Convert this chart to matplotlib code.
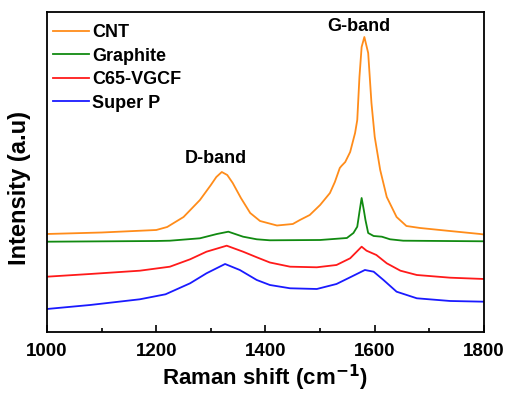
import numpy as np
import matplotlib
matplotlib.use('Agg')
from matplotlib import pyplot as plt
from matplotlib.ticker import MultipleLocator

# Raman shift (cm-1) and intensity (a.u.)
cnt_x = [1000, 1100, 1200, 1220, 1250, 1280, 1300, 1310, 1320, 1330, 1340, 1355, 1372,
         1390, 1421, 1450, 1463, 1481, 1500, 1518, 1527, 1536, 1539, 1546, 1555, 1564,
         1568, 1572, 1576, 1581, 1588, 1594, 1600, 1610, 1622, 1640, 1658, 1683, 1732,
         1793, 1800]
cnt_y = [98, 99.5, 102, 105, 115, 132, 147, 155, 160, 157, 149, 134, 119,
         111, 106.5, 108, 112, 117, 127, 139, 150, 164, 166, 170, 180, 199,
         212, 255, 285, 295, 279, 229, 195, 162, 135, 115, 106, 104, 101.3,
         98, 97.5]

graphite_x = [1000, 1200, 1225, 1280, 1311, 1332, 1359, 1384, 1408, 1500, 1549, 1561,
              1568, 1572, 1576, 1580, 1583, 1588, 1598, 1613, 1628, 1652, 1800]
graphite_y = [90.3, 91, 91.3, 93.7, 98, 100.3, 95.3, 92.7, 91.7, 92, 94, 99,
              105.3, 120, 134, 122, 112, 99, 96, 95.3, 92.7, 91.3, 90.7]

c65_x = [1000, 1079, 1170, 1225, 1262, 1292, 1329, 1359, 1384, 1408, 1445, 1494, 1530,
         1555, 1567, 1576, 1585, 1603, 1622, 1647, 1677, 1738, 1800]
c65_y = [55.3, 58, 61.3, 65.3, 72.7, 80.3, 86.3, 80.3, 74.7, 69.5, 65.3, 64.7, 67,
         73.7, 80.3, 85.3, 81.3, 77, 68.7, 61.3, 57, 54.3, 53]

superp_x = [1000, 1079, 1170, 1217, 1262, 1292, 1326, 1353, 1384, 1408, 1445, 1494,
            1530, 1555, 1582, 1598, 1616, 1640, 1677, 1738, 1800]
superp_y = [23, 27, 32.7, 37.7, 48.7, 58.7, 68, 62, 52, 47, 43.7, 43,
            48, 54.7, 62, 60.3, 52, 40.3, 33.7, 31, 30.3]

labels = ['CNT', 'Graphite', 'C65-VGCF', 'Super P']
colors = ['#FF8C1A', '#118A11', '#FF1A1A', '#1A1AFF']

plt.rcParams['font.family'] = ['Liberation Sans', 'DejaVu Sans']
plt.rcParams['font.weight'] = 'bold'
plt.rcParams['mathtext.default'] = 'bf'

fig = plt.figure(figsize=(5.07, 3.94), dpi=100)
ax = fig.add_axes([0.0927, 0.1574, 0.8619, 0.8121])

series = [(cnt_x, cnt_y), (graphite_x, graphite_y), (c65_x, c65_y), (superp_x, superp_y)]
for (x, y), lab, c in zip(series, labels, colors):
    ax.plot(x, y, color=c, lw=1.3, label=lab)

ax.set_xlim(1000, 1800)
ax.set_ylim(0, 320)
ax.xaxis.set_major_locator(MultipleLocator(200))
ax.xaxis.set_minor_locator(MultipleLocator(100))
ax.tick_params(axis='x', which='both', direction='in', top=False, labelsize=13.5, pad=8)
ax.tick_params(axis='x', which='major', length=5, width=1.2)
ax.tick_params(axis='x', which='minor', length=3, width=1.2)
ax.set_yticks([])
for s in ax.spines.values():
    s.set_linewidth(1.3)

ax.set_xlabel('Raman shift (cm$^{-1}$)', fontsize=16, fontweight='bold', labelpad=2)
ax.set_ylabel('Intensity (a.u)', fontsize=17, fontweight='bold')
ax.yaxis.set_label_coords(-0.036, 0.45)

ax.text(1570, 301, 'G-band', fontsize=13, fontweight='bold', ha='center', va='baseline')
ax.text(1309, 169, 'D-band', fontsize=13, fontweight='bold', ha='center', va='baseline')

ax.legend(loc='upper left', bbox_to_anchor=(0.0137, 0.962), frameon=False,
          prop={'size': 13, 'weight': 'bold'},
          handlelength=2.0, handletextpad=0.15, labelspacing=0.36,
          borderaxespad=0, borderpad=0)

fig.savefig('out.png', dpi=100)
